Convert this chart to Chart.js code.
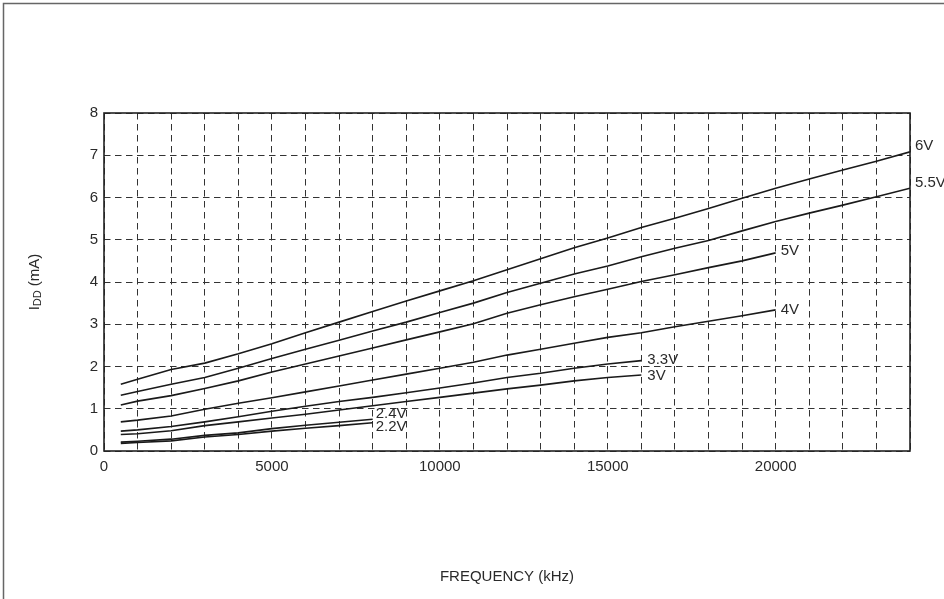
<!DOCTYPE html>
<html><head><meta charset="utf-8">
<script src="https://cdn.jsdelivr.net/npm/chart.js@4/dist/chart.umd.min.js"></script>
<style>html,body{margin:0;padding:0;background:#fff;}#wrap{width:944px;height:599px;}</style>
</head><body><div id="wrap"><canvas id="c" width="944" height="599"></canvas></div>
<script>
// Frequency points (kHz)
const freq = [500,1000,2000,3000,4000,5000,6000,7000,8000,9000,10000,11000,12000,13000,14000,15000,16000,17000,18000,19000,20000,21000,22000,23000,24000];
// Supply current IDD (mA) per supply voltage
const v6V  = [1.58,1.70,1.93,2.08,2.30,2.54,2.80,3.05,3.30,3.55,3.79,4.03,4.29,4.55,4.81,5.04,5.29,5.51,5.74,5.98,6.22,6.44,6.65,6.86,7.08];
const v55V = [1.32,1.41,1.58,1.74,1.96,2.19,2.41,2.62,2.84,3.05,3.28,3.50,3.75,3.97,4.19,4.38,4.60,4.80,4.98,5.21,5.43,5.63,5.82,6.02,6.22];
const v5V  = [1.09,1.18,1.31,1.48,1.66,1.87,2.06,2.25,2.44,2.63,2.82,3.01,3.26,3.46,3.65,3.83,4.01,4.17,4.34,4.50,4.69];
const v4V  = [0.69,0.73,0.83,0.99,1.13,1.26,1.40,1.54,1.68,1.82,1.96,2.10,2.27,2.41,2.55,2.69,2.80,2.94,3.07,3.20,3.34];
const v33V = [0.47,0.50,0.58,0.69,0.81,0.94,1.06,1.17,1.27,1.38,1.49,1.61,1.74,1.84,1.96,2.06,2.14];
const v3V  = [0.39,0.41,0.48,0.60,0.69,0.78,0.87,0.97,1.07,1.17,1.27,1.37,1.47,1.56,1.66,1.74,1.80];
const v24V = [0.21,0.23,0.28,0.37,0.43,0.53,0.61,0.68,0.75];
const v22V = [0.18,0.20,0.24,0.33,0.39,0.47,0.54,0.60,0.67];
const seriesNames = ['6V','5.5V','5V','4V','3.3V','3V','2.4V','2.2V'];
const seriesValues = [v6V, v55V, v5V, v4V, v33V, v3V, v24V, v22V];
const xTickLabels = ['0','5000','10000','15000','20000'];
const yTickLabels = ['0','1','2','3','4','5','6','7','8'];
const xTitle = 'FREQUENCY (kHz)';

// label nudges (pixels) per series
const labelDx = [5,5,5,5,6,6,3,3];
const labelDy = [-6,-5,-2,0,-1,1,-5,4];

const FONT = 'Liberation Sans, Arial, Helvetica, sans-serif';
const TXT = '#2a2a2a';

const datasets = seriesNames.map((name,i)=>({
  label: name,
  data: seriesValues[i].map((v,j)=>({x:freq[j], y:v})),
  borderColor:'#1a1a1a', borderWidth:1.6, pointRadius:0, tension:0, fill:false
}));

const decor = {
  id:'decor',
  beforeDraw(chart){
    const ctx=chart.ctx;
    ctx.save();
    ctx.fillStyle='#fff'; ctx.fillRect(0,0,chart.width,chart.height);
    ctx.strokeStyle='#666'; ctx.lineWidth=1.5;
    ctx.beginPath(); ctx.moveTo(3.5,chart.height); ctx.lineTo(3.5,3.5); ctx.lineTo(chart.width,3.5); ctx.stroke();
    ctx.restore();
  },
  beforeDatasetsDraw(chart){
    const {ctx, chartArea:a} = chart;
    ctx.save();
    ctx.strokeStyle='#222'; ctx.lineWidth=1.6;
    ctx.strokeRect(a.left, a.top, a.right-a.left, a.bottom-a.top);
    ctx.restore();
  },
  afterDatasetsDraw(chart){
    const {ctx, chartArea:a} = chart;
    ctx.save();
    ctx.font = '15px '+FONT; ctx.fillStyle=TXT; ctx.textBaseline='middle'; ctx.textAlign='left';
    chart.data.datasets.forEach((ds,i)=>{
      const meta=chart.getDatasetMeta(i);
      const p=meta.data[meta.data.length-1];
      ctx.fillText(ds.label, p.x+labelDx[i], p.y+labelDy[i]);
    });
    // x title
    ctx.textAlign='center';
    ctx.fillText(xTitle, (a.left+a.right)/2, 577);
    // y title with subscript
    ctx.translate(35, (a.top+a.bottom)/2);
    ctx.rotate(-Math.PI/2);
    const f1='15px '+FONT, f2='11px '+FONT;
    ctx.font=f1; const w1=ctx.measureText('I').width; const w3=ctx.measureText(' (mA)').width;
    ctx.font=f2; const w2=ctx.measureText('DD').width;
    let x=-(w1+w2+w3)/2;
    ctx.textAlign='left';
    ctx.font=f1; ctx.fillText('I',x,0); x+=w1;
    ctx.font=f2; ctx.fillText('DD',x,3); x+=w2;
    ctx.font=f1; ctx.fillText(' (mA)',x,0);
    ctx.restore();
  }
};

new Chart(document.getElementById('c'), {
  type:'line',
  data:{datasets},
  options:{
    responsive:false, animation:false, devicePixelRatio:1,
    layout:{padding:{left:64,right:34,top:113,bottom:118}},
    plugins:{legend:{display:false}, tooltip:{enabled:false}},
    scales:{
      x:{type:'linear', min:0, max:24000,
        afterFit(s){s.height=30;},
        afterBuildTicks(s){ s.ticks=[]; for(let v=0; v<=24000; v+=1000) s.ticks.push({value:v}); },
        ticks:{autoSkip:false, maxRotation:0, padding:7, color:TXT, font:{family:FONT,size:15},
          callback:(v)=>{ const k=xTickLabels.indexOf(String(v)); return k>=0?xTickLabels[k]:''; }},
        grid:{color:'#333', lineWidth:1, drawTicks:false},
        border:{display:false, dash:[6.5,4.5]}
      },
      y:{type:'linear', min:0, max:8,
        afterFit(s){s.width=40;},
        afterBuildTicks(s){ s.ticks=yTickLabels.map(t=>({value:Number(t)})); },
        ticks:{padding:6, color:TXT, font:{family:FONT,size:15},
          callback:(v)=>{ const k=yTickLabels.indexOf(String(v)); return k>=0?yTickLabels[k]:''; }},
        grid:{color:'#333', lineWidth:1, drawTicks:false},
        border:{display:false, dash:[6.5,4.5]}
      }
    }
  },
  plugins:[decor]
});
</script></body></html>
